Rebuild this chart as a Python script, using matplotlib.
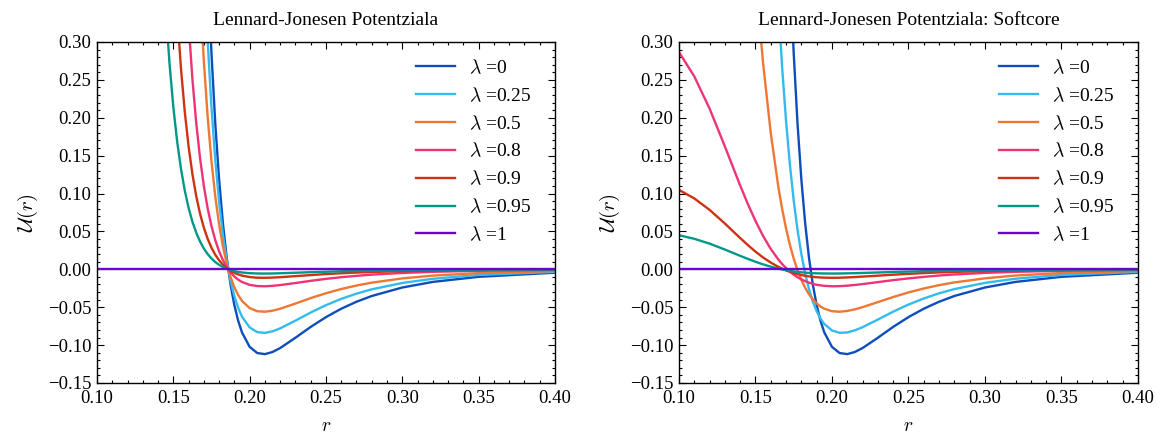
import matplotlib
matplotlib.use("Agg")
import matplotlib.pyplot as plt
from matplotlib.ticker import MultipleLocator, FuncFormatter

# ---------------- data ----------------
lambdas = ["0", "0.25", "0.5", "0.8", "0.9", "0.95", "1"]
colors = ["#0D4EBA", "#33BBEE", "#EE7733", "#EE3377", "#CC3311", "#009988", "#6A00D4"]

r_left = [0.10, 0.12, 0.14, 0.1425, 0.145, 0.1475, 0.15, 0.1525, 0.155, 0.1575,
          0.16, 0.1625, 0.165, 0.1675, 0.17, 0.1725, 0.175, 0.1775, 0.18, 0.1825,
          0.185, 0.1875, 0.19, 0.1925, 0.195, 0.2, 0.205, 0.21, 0.215, 0.22,
          0.23, 0.24, 0.25, 0.26, 0.27, 0.28, 0.30, 0.32, 0.35, 0.40]

lj_0 = [749.5, 79.9, 11.1, 8.73, 6.9, 5.442, 4.29, 3.380, 2.657, 2.081,
        1.624, 1.258, 0.967, 0.735, 0.550, 0.4025, 0.2853, 0.1922, 0.1186, 0.0606,
        0.0152, -0.0201, -0.0473, -0.0679, -0.0833, -0.1023, -0.1105, -0.1119, -0.1091, -0.1039,
        -0.0903, -0.0760, -0.0631, -0.0520, -0.0428, -0.0352, -0.0240, -0.0166, -0.0099, -0.0045]
lj_025 = [562.0, 59.9, 8.33, 6.55, 5.18, 4.08, 3.22, 2.535, 1.993, 1.561,
          1.218, 0.9435, 0.7253, 0.5513, 0.4125, 0.3019, 0.214, 0.1442, 0.0890, 0.0455,
          0.0114, -0.0151, -0.0355, -0.0509, -0.0625, -0.0767, -0.0829, -0.0839, -0.0818, -0.0779,
          -0.0677, -0.0570, -0.0473, -0.0390, -0.0321, -0.0264, -0.0180, -0.0125, -0.0074, -0.0034]
lj_05 = [374.8, 40.0, 5.55, 4.365, 3.45, 2.721, 2.145, 1.69, 1.3285, 1.0405,
         0.812, 0.629, 0.4835, 0.3675, 0.275, 0.2013, 0.1427, 0.0961, 0.0593, 0.0303,
         0.0076, -0.0101, -0.0237, -0.0340, -0.0417, -0.0512, -0.0553, -0.0560, -0.0546, -0.0520,
         -0.0452, -0.0380, -0.0316, -0.0260, -0.0214, -0.0176, -0.0120, -0.0083, -0.0050, -0.0023]
lj_08 = [149.9, 16.0, 2.22, 1.746, 1.38, 1.088, 0.858, 0.676, 0.531, 0.416,
         0.325, 0.2516, 0.1934, 0.147, 0.110, 0.0805, 0.0571, 0.0384, 0.0237, 0.0121,
         0.0030, -0.0040, -0.0095, -0.0136, -0.0167, -0.0205, -0.0221, -0.0224, -0.0218, -0.0208,
         -0.0181, -0.0152, -0.0126, -0.0104, -0.0086, -0.0070, -0.0048, -0.0033, -0.0020, -0.0009]
lj_09 = [74.95, 7.99, 1.11, 0.873, 0.69, 0.544, 0.429, 0.338, 0.2657, 0.2081,
         0.1624, 0.1258, 0.0967, 0.0735, 0.055, 0.0403, 0.0285, 0.0192, 0.0119, 0.0061,
         0.0015, -0.0020, -0.0047, -0.0068, -0.0083, -0.0102, -0.0111, -0.0112, -0.0109, -0.0104,
         -0.0090, -0.0076, -0.0063, -0.0052, -0.0043, -0.0035, -0.0024, -0.0017, -0.0010, -0.0004]
lj_095 = [37.5, 4.0, 0.555, 0.4365, 0.345, 0.2721, 0.2145, 0.169, 0.1329, 0.1041,
          0.0812, 0.0629, 0.0484, 0.0368, 0.0275, 0.0201, 0.0143, 0.0096, 0.0059, 0.0030,
          0.0008, -0.0010, -0.0024, -0.0034, -0.0042, -0.0051, -0.0055, -0.0056, -0.0055, -0.0052,
          -0.0045, -0.0038, -0.0032, -0.0026, -0.0021, -0.0018, -0.0012, -0.0008, -0.0005, -0.0002]
lj_1 = [0.0] * len(r_left)

r_right = [0.10, 0.11, 0.12, 0.13, 0.14, 0.145, 0.15, 0.155, 0.16, 0.165,
           0.1675, 0.17, 0.1725, 0.175, 0.1775, 0.18, 0.1825, 0.185, 0.1875, 0.19,
           0.1925, 0.195, 0.2, 0.205, 0.21, 0.215, 0.22, 0.23, 0.24, 0.25,
           0.26, 0.27, 0.28, 0.30, 0.32, 0.35, 0.40]

sc_0 = [749.5, 234.0, 79.9, 29.1, 11.1, 6.9, 4.29, 2.657, 1.624, 0.967,
        0.735, 0.550, 0.4025, 0.2853, 0.1922, 0.1186, 0.0606, 0.0152, -0.0201, -0.0473,
        -0.0679, -0.0833, -0.1023, -0.1105, -0.1119, -0.1091, -0.1039, -0.0903, -0.0760, -0.0631,
        -0.0520, -0.0428, -0.0352, -0.0240, -0.0166, -0.0099, -0.0045]
sc_025 = [12.85, 9.93, 6.943, 4.367, 2.473, 1.790, 1.259, 0.858, 0.5616, 0.3474,
          0.2649, 0.1958, 0.1384, 0.0909, 0.0519, 0.0201, -0.0056, -0.0262, -0.0425, -0.0552,
          -0.0649, -0.0721, -0.0807, -0.0838, -0.0833, -0.0805, -0.0764, -0.0663, -0.0559, -0.0465,
          -0.0385, -0.0317, -0.0261, -0.0179, -0.0124, -0.0074, -0.0034]
sc_05 = [2.163, 1.848, 1.463, 1.056, 0.6824, 0.5229, 0.3859, 0.2718, 0.1799, 0.1082,
         0.0791, 0.0539, 0.0324, 0.0142, -0.0012, -0.0139, -0.0244, -0.0329, -0.0397, -0.0450,
         -0.0491, -0.0520, -0.0553, -0.0560, -0.0549, -0.0528, -0.0499, -0.0433, -0.0366, -0.0305,
         -0.0253, -0.0209, -0.0173, -0.0119, -0.0082, -0.0049, -0.0022]
sc_08 = [0.2868, 0.2547, 0.2122, 0.1623, 0.1107, 0.0863, 0.0639, 0.0440, 0.0269, 0.0128,
         0.0069, 0.0016, -0.0030, -0.0070, -0.0104, -0.0133, -0.0157, -0.0176, -0.0192, -0.0204,
         -0.0212, -0.0218, -0.0224, -0.0222, -0.0216, -0.0206, -0.0195, -0.0169, -0.0143, -0.0120,
         -0.0100, -0.0082, -0.0068, -0.0047, -0.0033, -0.0020, -0.0009]
sc_09 = [0.1048, 0.0936, 0.0785, 0.0605, 0.0413, 0.0321, 0.0234, 0.0156, 0.0089, 0.0032,
         0.0008, -0.0014, -0.0033, -0.0049, -0.0063, -0.0075, -0.0085, -0.0093, -0.0100, -0.0104,
         -0.0108, -0.0110, -0.0112, -0.0111, -0.0107, -0.0102, -0.0096, -0.0084, -0.0071, -0.0060,
         -0.0050, -0.0041, -0.0034, -0.0023, -0.0016, -0.0010, -0.0005]
sc_095 = [0.0450, 0.0403, 0.0339, 0.0261, 0.0178, 0.0138, 0.0100, 0.0065, 0.0035, 0.0009,
          -0.0002, -0.0012, -0.0020, -0.0028, -0.0034, -0.0040, -0.0044, -0.0048, -0.0051, -0.0053,
          -0.0054, -0.0055, -0.0056, -0.0055, -0.0053, -0.0051, -0.0048, -0.0042, -0.0035, -0.0030,
          -0.0025, -0.0021, -0.0017, -0.0012, -0.0008, -0.0005, -0.0002]
sc_1 = [0.0] * len(r_right)

titles = ["Lennard-Jonesen Potentziala", "Lennard-Jonesen Potentziala: Softcore"]
xlabel = r"$r$"
ylabel = r"$\mathcal{U}(r)$"

# ---------------- style ----------------
plt.rcParams.update({
    "font.family": ["Liberation Serif", "DejaVu Serif"],
    "mathtext.fontset": "cm",
    "font.size": 13.5,
    "axes.linewidth": 1.0,
    "xtick.direction": "in",
    "ytick.direction": "in",
    "xtick.top": True,
    "ytick.right": True,
    "xtick.minor.visible": True,
    "ytick.minor.visible": True,
    "xtick.major.size": 5,
    "ytick.major.size": 5,
    "xtick.minor.size": 2.5,
    "ytick.minor.size": 2.5,
    "xtick.major.width": 0.8,
    "ytick.major.width": 0.8,
    "xtick.minor.width": 0.8,
    "ytick.minor.width": 0.8,
    "xtick.labelsize": 13.5,
    "ytick.labelsize": 13.5,
    "xtick.major.pad": 5,
    "ytick.major.pad": 4,
})


def fmt(v, _pos):
    return ("%.2f" % v).replace("-", "\u2212")


fig = plt.figure(figsize=(11.6, 4.36), dpi=100)
ax1 = fig.add_axes([0.0836, 0.1216, 0.3948, 0.7821])
ax2 = fig.add_axes([0.5853, 0.1216, 0.3957, 0.7821])

left_series = [lj_0, lj_025, lj_05, lj_08, lj_09, lj_095, lj_1]
right_series = [sc_0, sc_025, sc_05, sc_08, sc_09, sc_095, sc_1]

for ax, rr, series, title in [(ax1, r_left, left_series, titles[0]),
                              (ax2, r_right, right_series, titles[1])]:
    for lam, ys, c in zip(lambdas, series, colors):
        ax.plot(rr, ys, color=c, lw=1.7, label=r"$\lambda$ =" + lam)
    ax.set_xlim(0.10, 0.40)
    ax.set_ylim(-0.15, 0.30)
    ax.xaxis.set_major_locator(MultipleLocator(0.05))
    ax.xaxis.set_minor_locator(MultipleLocator(0.01))
    ax.yaxis.set_major_locator(MultipleLocator(0.05))
    ax.yaxis.set_minor_locator(MultipleLocator(0.01))
    ax.xaxis.set_major_formatter(FuncFormatter(fmt))
    ax.yaxis.set_major_formatter(FuncFormatter(fmt))
    ax.set_title(title, fontsize=14, pad=12)
    ax.set_xlabel(xlabel, fontsize=14, labelpad=8)
    ax.set_ylabel(ylabel, fontsize=15, labelpad=6)
    ax.legend(loc="upper right", frameon=False, fontsize=14, handlelength=2.05,
              handletextpad=0.7, labelspacing=0.48, borderaxespad=0.45,
              bbox_to_anchor=(0.985, 1.0))

fig.savefig("out.png", dpi=100)
